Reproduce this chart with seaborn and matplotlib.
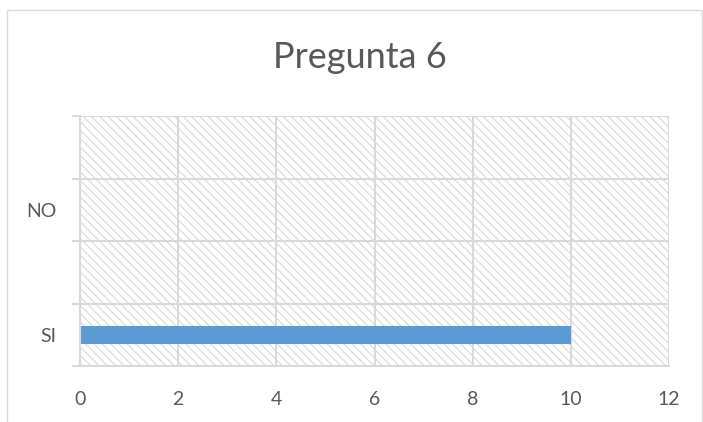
import matplotlib
matplotlib.use("Agg")
import matplotlib.pyplot as plt
from matplotlib.patches import Rectangle
import numpy as np
import pandas as pd
import seaborn as sns

# data, top row first (the sheet had two empty rows)
categories = ["", "NO", " ", "SI"]
values = [0, 0, 0, 10]
x_ticks = [0, 2, 4, 6, 8, 10, 12]

title = "Pregunta 6"
bar_color = "#5B9BD5"
grid_color = "#D9D9D9"
text_color = "#595959"

sns.set_theme(style="white")
plt.rcParams["font.family"] = ["Lato", "DejaVu Sans"]
plt.rcParams["hatch.linewidth"] = 0.8

df = pd.DataFrame({"category": categories, "value": values})

fig = plt.figure(figsize=(7.03, 4.22), dpi=100)
ax = fig.add_axes([80 / 703, 1 - 366 / 422, 589 / 703, 250 / 422])

# hatched plot area
ax.add_patch(Rectangle((0, 0), 1, 1, transform=ax.transAxes, facecolor="white",
                       edgecolor="#D9D9D9", hatch="\\\\\\\\", linewidth=0, zorder=0.1))

sns.barplot(data=df, x="value", y="category", order=categories, orient="h",
            color=bar_color, width=0.28, saturation=1, linewidth=0, ax=ax, zorder=2)

n = len(categories)
ax.set_xlim(x_ticks[0], x_ticks[-1])
ax.set_ylim(n - 0.5, -0.5)
ax.set_xticks(x_ticks)
ax.set_yticks(np.arange(n))
ax.set_yticks(np.arange(n + 1) - 0.5, minor=True)
ax.set_xlabel("")
ax.set_ylabel("")

ax.grid(True, axis="x", which="major", color=grid_color, linewidth=1.5, zorder=1)
ax.grid(True, axis="y", which="minor", color=grid_color, linewidth=1.5, zorder=1)
ax.grid(False, axis="y", which="major")
ax.set_axisbelow(True)

ax.tick_params(axis="y", which="major", length=0, pad=17, labelsize=14, labelcolor=text_color)
ax.tick_params(axis="y", which="minor", left=True, length=6, width=1.5, color=grid_color)
ax.tick_params(axis="x", length=0, pad=18, labelsize=14, labelcolor=text_color)

for side, spine in ax.spines.items():
    spine.set_visible(side in ("left", "bottom"))
    spine.set_color(grid_color)
    spine.set_linewidth(1.5)

fig.text(0.512, 1 - 57 / 422, title, ha="center", va="center",
         fontsize=26, color=text_color)

# chart border
fig.patches.append(Rectangle((7 / 703, -0.01), 695 / 703, 1 - 10 / 422 + 0.01,
                             transform=fig.transFigure, fill=False,
                             edgecolor=grid_color, linewidth=1))

fig.savefig("out.png", dpi=100)
plt.close(fig)
